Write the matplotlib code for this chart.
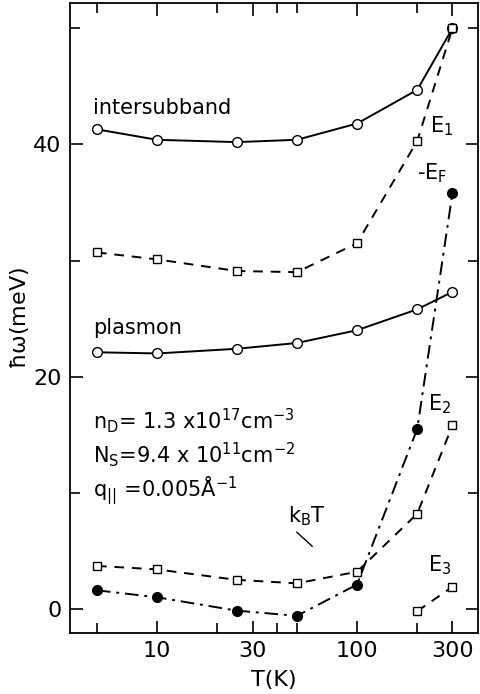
import numpy as np
import matplotlib
matplotlib.use('Agg')
import matplotlib.pyplot as plt
from matplotlib.ticker import FixedLocator, NullFormatter

plt.rcParams['mathtext.default'] = 'regular'

# temperatures (K)
T = [5, 10, 25, 50, 100, 200, 300]
intersubband = [41.3, 40.4, 40.2, 40.4, 41.8, 44.7, 50.0]
E1 = [30.7, 30.1, 29.1, 29.0, 31.5, 40.3, 50.0]
EF = [1.6, 1.0, -0.15, -0.6, 2.1, 15.5, 35.8]
plasmon = [22.1, 22.0, 22.4, 22.9, 24.0, 25.8, 27.3]
E2 = [3.7, 3.4, 2.5, 2.2, 3.2, 8.2, 15.8]
T_E3 = [200, 300]
E3 = [-0.2, 1.9]

x_major = [10, 30, 100, 300]
x_labels = ['10', '30', '100', '300']
x_minor = [5, 20, 40, 50, 200]

fig = plt.figure(figsize=(4.8, 6.94), dpi=100)
ax = fig.add_axes([0.146, 0.088, 0.85, 0.908])

lw = 1.4
ax.plot(T, intersubband, '-', color='black', lw=lw, marker='o', ms=7,
        mfc='white', mec='black', mew=1.0)
ax.plot(T, E1, '--', color='black', lw=lw, marker='s', ms=6,
        mfc='white', mec='black', mew=1.0, dashes=(5, 4))
ax.plot(T, EF, '-.', color='black', lw=lw, marker='o', ms=7,
        mfc='black', mec='black', dashes=(7, 3, 1.5, 3))
ax.plot(T, plasmon, '-', color='black', lw=lw, marker='o', ms=7,
        mfc='white', mec='black', mew=1.0)
ax.plot(T, E2, '--', color='black', lw=lw, marker='s', ms=6,
        mfc='white', mec='black', mew=1.0, dashes=(5, 4))
ax.plot(T_E3, E3, '--', color='black', lw=lw, marker='s', ms=6,
        mfc='white', mec='black', mew=1.0, dashes=(5, 4))

ax.set_xscale('log')
ax.set_xlim(3.67, 403)
ax.set_ylim(-2.07, 52.2)

ax.xaxis.set_major_locator(FixedLocator(x_major))
ax.set_xticklabels(x_labels)
ax.xaxis.set_minor_locator(FixedLocator(x_minor))
ax.xaxis.set_minor_formatter(NullFormatter())
ax.set_yticks([0, 20, 40])
ax.set_yticks([10, 30, 50], minor=True)

ax.tick_params(which='both', direction='in', top=True, right=True,
               width=1.2, labelsize=16, pad=6)
ax.tick_params(which='major', length=9)
ax.tick_params(which='minor', length=7)
for s in ax.spines.values():
    s.set_linewidth(1.3)

ax.set_xlabel('T(K)', fontsize=16, labelpad=6)
ax.set_ylabel(r'$\hbar\omega$(meV)', fontsize=16, labelpad=2)

fs = 15
ax.text(4.8, 43.1, 'intersubband', fontsize=fs, va='center')
ax.text(4.8, 24.2, 'plasmon', fontsize=fs, va='center')
ax.text(232, 41.6, r'E$_1$', fontsize=fs, va='center')
ax.text(200, 37.5, r'-E$_F$', fontsize=fs, va='center')
ax.text(226, 17.6, r'E$_2$', fontsize=fs, va='center')
ax.text(226, 3.8, r'E$_3$', fontsize=fs, va='center')
ax.text(45, 8.0, r'k$_B$T', fontsize=fs, va='center')
ax.plot([50, 59.6], [6.6, 5.4], '-', color='black', lw=1.0)

ax.text(4.8, 16.2, r'n$_D$= 1.3 x10$^{17}$cm$^{-3}$', fontsize=fs, va='center')
ax.text(4.8, 13.3, r'N$_S$=9.4 x 10$^{11}$cm$^{-2}$', fontsize=fs, va='center')
ax.text(4.8, 10.2, r'q$_{||}$ =0.005Å$^{-1}$', fontsize=fs, va='center')

fig.savefig('out.png', dpi=100)
